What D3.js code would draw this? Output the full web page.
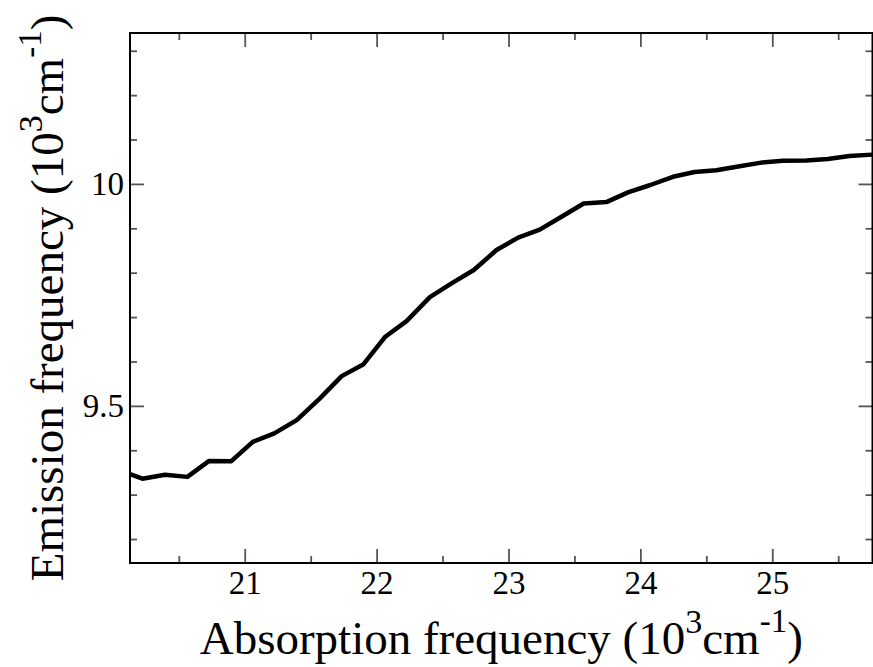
<!DOCTYPE html>
<html>
<head>
<meta charset="utf-8">
<script src="https://cdn.jsdelivr.net/npm/d3@7"></script>
<style>
  body { margin: 0; background: #fff; }
  svg { display: block; }
</style>
</head>
<body>
<script>
const width = 873, height = 667;

// absorption frequency (10^3 cm^-1)
const absorption = [20.13, 20.224, 20.396, 20.565, 20.73, 20.896, 21.061, 21.224, 21.394,
    21.57, 21.735, 21.898, 22.063, 22.227, 22.404, 22.568, 22.737, 22.909, 23.073,
    23.237, 23.402, 23.57, 23.742, 23.906, 24.07, 24.247, 24.411, 24.576, 24.752,
    24.917, 25.08, 25.258, 25.421, 25.586, 25.758];
// emission frequency (10^3 cm^-1)
const emission = [9.346, 9.336, 9.345, 9.340, 9.376, 9.375, 9.419, 9.438, 9.468,
    9.517, 9.567, 9.593, 9.655, 9.691, 9.745, 9.776, 9.806, 9.851, 9.879,
    9.897, 9.926, 9.956, 9.959, 9.981, 9.997, 10.016, 10.027, 10.031, 10.040,
    10.048, 10.052, 10.053, 10.056, 10.063, 10.066];

const xMajor = [21, 22, 23, 24, 25];
const xMinor = [20.5, 21.5, 22.5, 23.5, 24.5, 25.5];
const yMajor = [9.5, 10];
const yMinor = [9.2, 9.3, 9.4, 9.6, 9.7, 9.8, 9.9, 10.1, 10.2, 10.3];

const plotL = 130, plotR = 872.5, plotT = 33, plotB = 563;
const font = "'Liberation Serif', 'Times New Roman', serif";

const x = d3.scaleLinear().domain([20.13, 25.76]).range([plotL, plotR]);
const y = d3.scaleLinear().domain([9.146, 10.34]).range([plotB, plotT]);

const svg = d3.select("body").append("svg").attr("width", width).attr("height", height);

svg.append("defs").append("clipPath").attr("id", "clip")
    .append("rect").attr("x", plotL).attr("y", plotT).attr("width", plotR - plotL).attr("height", plotB - plotT);

function styleAxis(g) {
    g.select(".domain").remove();
    g.selectAll(".tick line").attr("stroke", "#555").attr("stroke-width", 1.8);
    g.selectAll(".tick text").attr("font-family", font).attr("font-size", 33).attr("fill", "#000");
}

// major ticks, pointing inward on all four sides
svg.append("g").attr("transform", `translate(0,${plotB})`)
    .call(d3.axisBottom(x).tickValues(xMajor).tickSize(-14).tickPadding(8).tickFormat(d3.format("d")))
    .call(styleAxis);
svg.append("g").attr("transform", `translate(0,${plotT})`)
    .call(d3.axisTop(x).tickValues(xMajor).tickSize(-14).tickFormat(""))
    .call(styleAxis);
svg.append("g").attr("transform", `translate(${plotL},0)`)
    .call(d3.axisLeft(y).tickValues(yMajor).tickSize(-14).tickPadding(6).tickFormat(d => d === 10 ? "10" : d3.format(".1f")(d)))
    .call(styleAxis);
svg.append("g").attr("transform", `translate(${plotR},0)`)
    .call(d3.axisRight(y).tickValues(yMajor).tickSize(-14).tickFormat(""))
    .call(styleAxis);

// minor ticks
svg.append("g").attr("transform", `translate(0,${plotB})`)
    .call(d3.axisBottom(x).tickValues(xMinor).tickSize(-7).tickFormat(""))
    .call(styleAxis);
svg.append("g").attr("transform", `translate(0,${plotT})`)
    .call(d3.axisTop(x).tickValues(xMinor).tickSize(-7).tickFormat(""))
    .call(styleAxis);
svg.append("g").attr("transform", `translate(${plotL},0)`)
    .call(d3.axisLeft(y).tickValues(yMinor).tickSize(-7).tickFormat(""))
    .call(styleAxis);
svg.append("g").attr("transform", `translate(${plotR},0)`)
    .call(d3.axisRight(y).tickValues(yMinor).tickSize(-7).tickFormat(""))
    .call(styleAxis);

// frame
svg.append("rect")
    .attr("x", plotL).attr("y", plotT).attr("width", plotR - plotL).attr("height", plotB - plotT)
    .attr("fill", "none").attr("stroke", "#000").attr("stroke-width", 2);

// curve
const line = d3.line().x(d => x(d[0])).y(d => y(d[1]));
svg.append("path")
    .datum(absorption.map((a, i) => [a, emission[i]]))
    .attr("clip-path", "url(#clip)")
    .attr("d", line)
    .attr("fill", "none")
    .attr("stroke", "#000")
    .attr("stroke-width", 4.5)
    .attr("stroke-linejoin", "round");

// axis titles with superscripts
function title(sel, label) {
    sel.attr("font-family", font).attr("font-size", 47).attr("fill", "#000").attr("text-anchor", "middle");
    sel.append("tspan").text(label + " (10");
    sel.append("tspan").attr("font-size", 34).attr("dy", -21).text("3");
    sel.append("tspan").attr("dy", 21).text("cm");
    sel.append("tspan").attr("font-size", 33).attr("dy", -22).text("-1");
    sel.append("tspan").attr("dy", 22).text(")");
}

svg.append("text").attr("x", (plotL + plotR) / 2).attr("y", 654)
    .call(title, "Absorption frequency");

svg.append("text").attr("transform", `translate(63,${(plotT + plotB) / 2}) rotate(-90)`)
    .call(title, "Emission frequency");
</script>
</body>
</html>
